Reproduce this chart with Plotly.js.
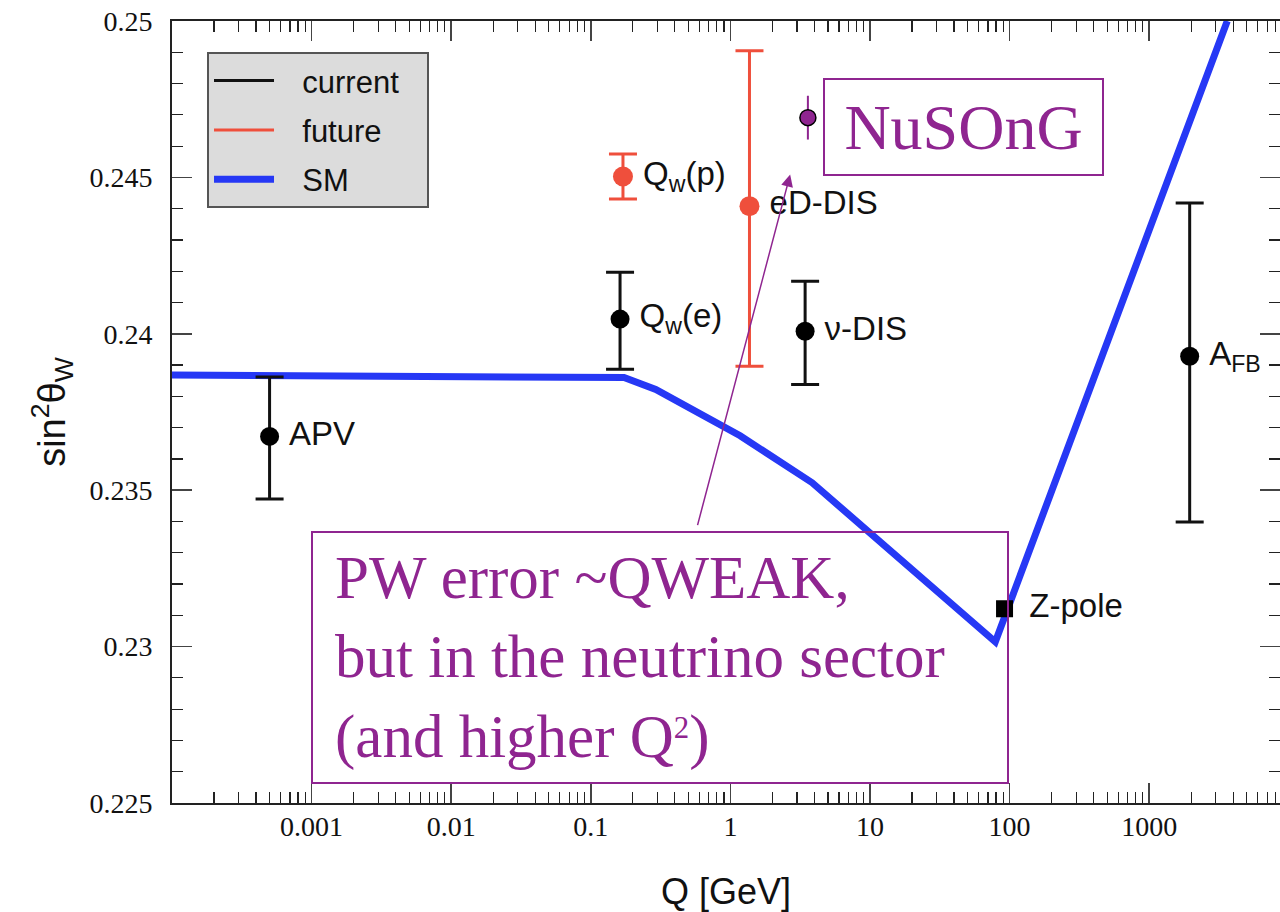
<!DOCTYPE html>
<html>
<head>
<meta charset="utf-8">
<script src="https://cdn.plot.ly/plotly-3.0.1.min.js"></script>
<style>html,body{margin:0;padding:0;background:#fff;overflow:hidden}#chart{width:1280px;height:912px}</style>
</head>
<body>
<div id="chart"></div>
<script>
// ---- data ----
const Q_SM   = [0.0001, 0.173, 0.292, 1.175, 3.85, 79, 3624];
const s2w_SM = [0.23868, 0.2386, 0.23822, 0.23674, 0.23524, 0.23015, 0.25];

const Q_current        = [0.0005, 0.162, 3.43, 1950];
const s2w_current      = [0.23672, 0.24047, 0.24008, 0.23928];
const errUp_current    = [0.0019, 0.0015, 0.0016, 0.0049];
const errDown_current  = [0.0020, 0.0016, 0.0017, 0.0053];
const labels_current   = ['APV', 'Q<sub>w</sub>(e)', 'ν-DIS', 'A<sub>FB</sub>'];

const Q_future       = [0.17, 1.37];
const s2w_future     = [0.24503, 0.24408];
const errUp_future   = [0.00072, 0.00497];
const errDown_future = [0.00072, 0.00512];
const labels_future  = ['Q<sub>w</sub>(p)', 'eD-DIS'];

const Q_nusong   = [3.59];
const s2w_nusong = [0.24691];
const err_nusong = [0.0007];

const Q_zpole      = [92];
const s2w_zpole    = [0.23121];
const labels_zpole = ['Z-pole'];

const legendNames = ['current', 'future', 'SM'];

const xTickVals = [0.001, 0.01, 0.1, 1, 10, 100, 1000];
const xTickText = ['0.001', '0.01', '0.1', '1', '10', '100', '1000'];
const yTickVals = [0.225, 0.23, 0.235, 0.24, 0.245, 0.25];
const yTickText = ['0.225', '0.23', '0.235', '0.24', '0.245', '0.25'];

const arrowHeadQ = 2.68, arrowHeadS2w = 0.24509;

// ---- styles ----
const BLUE = 'rgb(38,56,245)';
const RED = '#ef4f3c';
const PURPLE = '#8f2590';
const SANS = 'Liberation Sans, Arial, sans-serif';
const SERIF = 'Liberation Serif, Times New Roman, serif';
const GAP = '\u2009';          // small gap between marker and its label
const LGAP = '\u2002\u2005';   // gap between legend line and legend text
const pad = arr => arr.map(s => GAP + s);
const lname = s => LGAP + s + LGAP;

const traces = [
  {x:[null], y:[null], mode:'lines', name:lname(legendNames[0]), line:{color:'#111', width:3}, legendgroup:'a', hoverinfo:'skip'},
  {x:[null], y:[null], mode:'lines', name:lname(legendNames[1]), line:{color:RED, width:3}, legendgroup:'b', hoverinfo:'skip'},
  {x:Q_SM, y:s2w_SM, mode:'lines', name:lname(legendNames[2]), line:{color:BLUE, width:7}, legendgroup:'c'},
  {x:Q_current, y:s2w_current, mode:'markers+text', showlegend:false,
   marker:{color:'#000', size:19},
   error_y:{type:'data', symmetric:false, array:errUp_current, arrayminus:errDown_current, color:'#111', thickness:3, width:14},
   text:pad(labels_current), textposition:'middle right', textfont:{family:SANS, size:33, color:'#111'}, cliponaxis:false},
  {x:Q_future, y:s2w_future, mode:'markers+text', showlegend:false,
   marker:{color:RED, size:20},
   error_y:{type:'data', symmetric:false, array:errUp_future, arrayminus:errDown_future, color:RED, thickness:3, width:14},
   text:pad(labels_future), textposition:'middle right', textfont:{family:SANS, size:33, color:'#111'}, cliponaxis:false},
  {x:Q_nusong, y:s2w_nusong, mode:'markers', showlegend:false,
   marker:{color:PURPLE, size:16, line:{color:'#000', width:1.5}},
   error_y:{type:'data', array:err_nusong, color:PURPLE, thickness:2, width:0}},
  {x:Q_zpole, y:s2w_zpole, mode:'markers+text', showlegend:false,
   marker:{color:'#000', size:17, symbol:'square'},
   text:pad(labels_zpole).map(s => GAP + s), textposition:'middle right', textfont:{family:SANS, size:33, color:'#111'}, cliponaxis:false}
];

const layout = {
  width:1280, height:912,
  margin:{l:172, r:0, t:21, b:109},
  paper_bgcolor:'#fff', plot_bgcolor:'#fff',
  showlegend:true,
  legend:{x:0.0316, y:0.9604, xanchor:'left', yanchor:'top', bgcolor:'#dcdcdc', bordercolor:'#555', borderwidth:2,
          font:{family:SANS, size:31, color:'#111'}, traceorder:'grouped', tracegroupgap:6, itemwidth:60},
  xaxis:{type:'log', range:[-4, 3.937], tickmode:'array', tickvals:xTickVals, ticktext:xTickText,
         ticks:'inside', ticklen:20, tickwidth:1.5, tickcolor:'#444',
         showline:true, linecolor:'#222', linewidth:2, mirror:'allticks', showgrid:false, zeroline:false,
         minor:{ticks:'inside', ticklen:11, tickwidth:1.2, tickcolor:'#222', dtick:'D1', showgrid:false},
         tickfont:{family:SERIF, size:28, color:'#111'}, ticklabelstandoff:-3,
         title:{text:'Q [GeV]', font:{family:SANS, size:36, color:'#111'}, standoff:38}},
  yaxis:{range:[0.225, 0.25], tickmode:'array', tickvals:yTickVals, ticktext:yTickText,
         ticks:'inside', ticklen:20, tickwidth:1.5, tickcolor:'#444',
         showline:true, linecolor:'#222', linewidth:2, mirror:'allticks', showgrid:false, zeroline:false,
         minor:{ticks:'inside', ticklen:11, tickwidth:1.2, tickcolor:'#222', dtick:0.001, showgrid:false},
         tickfont:{family:SERIF, size:28, color:'#111'}, ticklabelstandoff:12,
         title:{text:'sin<sup>2</sup>θ<sub>W</sub>', font:{family:SANS, size:38, color:'#111'}, standoff:12}},
  annotations:[
    {xref:'paper', yref:'paper', x:0.7144, y:0.8645, xanchor:'center', yanchor:'middle',
     text:'NuSOnG', showarrow:false, font:{family:SERIF, size:64, color:PURPLE},
     bordercolor:PURPLE, borderwidth:2, borderpad:0, width:277, height:94, bgcolor:'rgba(255,255,255,0)'},
    {xref:'paper', yref:'paper', x:0.1255, y:0.3478, xanchor:'left', yanchor:'top',
     text:' ', showarrow:false, bordercolor:PURPLE, borderwidth:2, borderpad:0, width:694, height:249},
    {xref:'paper', yref:'paper', x:0.1453, y:0.186, xanchor:'left', yanchor:'middle', align:'left',
     text:'PW error ~QWEAK,<br>but in the neutrino sector<br>(and higher Q<span style="font-size:44px"><sup>2</sup></span>)', showarrow:false,
     font:{family:SERIF, size:61, color:PURPLE}},
    {xref:'x', yref:'y', x:Math.log10(arrowHeadQ), y:arrowHeadS2w, text:'', showarrow:true,
     axref:'pixel', ayref:'pixel', ax:-93, ay:352, arrowcolor:PURPLE, arrowwidth:1.5, arrowhead:2, arrowsize:1.6, standoff:0}
  ]
};

Plotly.newPlot('chart', traces, layout, {displayModeBar:false, staticPlot:true});
</script>
</body>
</html>
